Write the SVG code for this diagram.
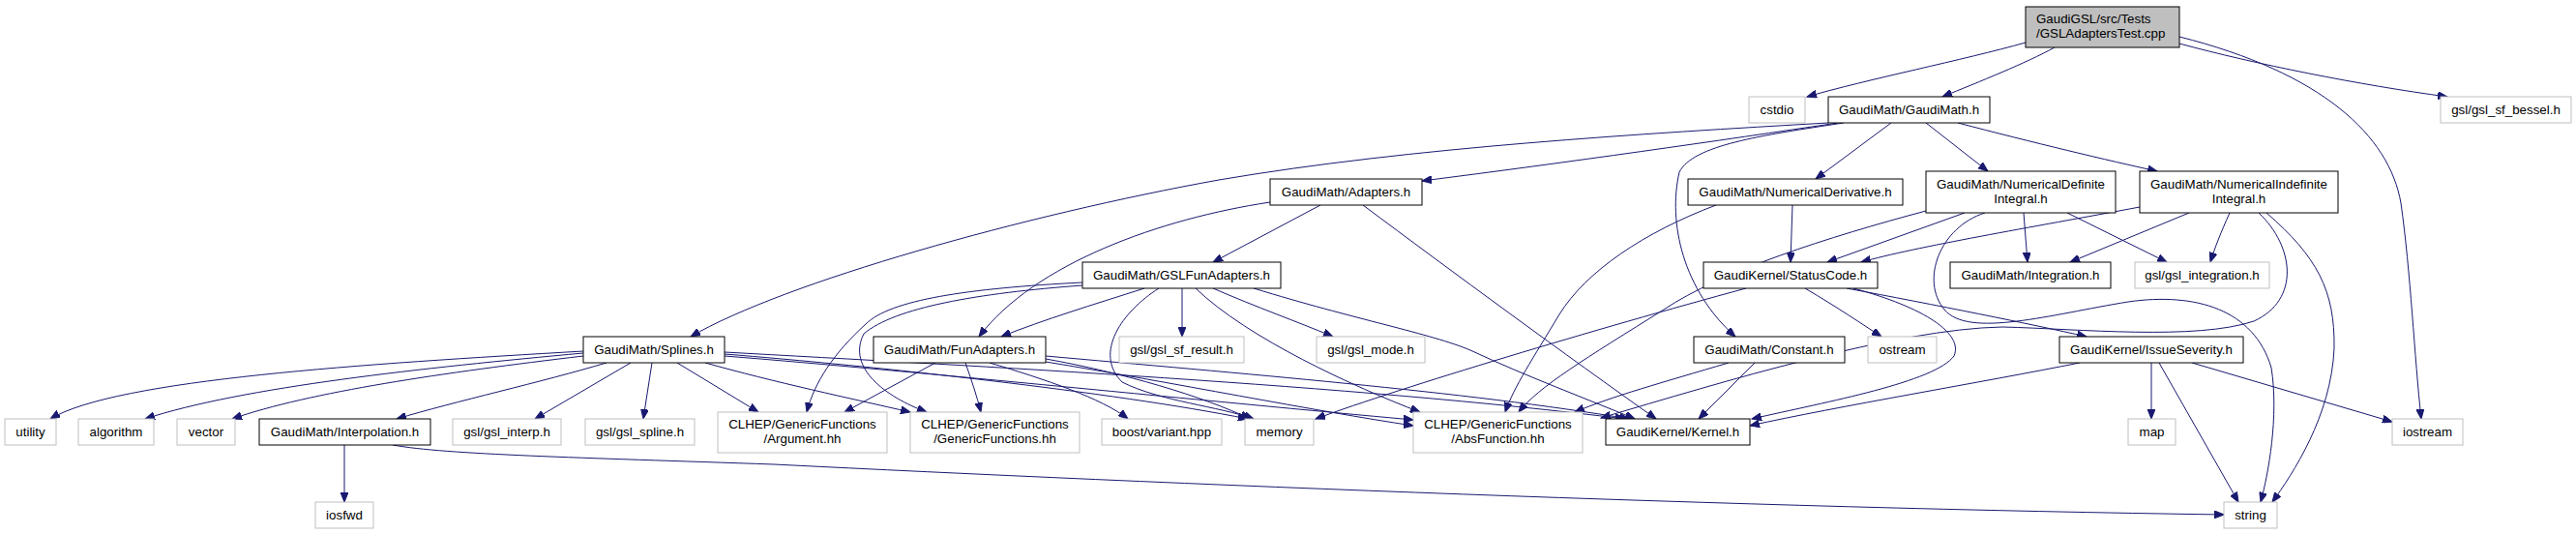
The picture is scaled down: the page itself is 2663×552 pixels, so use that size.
<svg xmlns="http://www.w3.org/2000/svg" width="2663" height="552" viewBox="0 0 2663 552">
<style>
rect{fill:#fff;stroke:#000;stroke-width:1}
.x rect{stroke:#bfbfbf}
.r rect{fill:#bfbfbf}
text{font-family:"Liberation Sans",Arial,Helvetica,sans-serif;font-size:13.33px;fill:#000;text-anchor:middle}
.r text{text-anchor:start}
#edges path{fill:none;stroke:#191970;stroke-width:1;marker-end:url(#arr)}
</style>
<defs>
<marker id="arr" markerWidth="11" markerHeight="8" refX="10" refY="4" orient="auto" markerUnits="userSpaceOnUse"><path d="M0,0 L10,4 L0,8 z" fill="#191970" stroke="#191970"/></marker>
</defs>
<rect x="0" y="0" width="2663" height="552" style="fill:#fff;stroke:none"/>
<g id="edges">
<path d="M2094,44 C2030,62 1930,82 1868,100"/>
<path d="M2124,49 C2095,65 2045,85 2008,100"/>
<path d="M2253,45 C2330,66 2440,88 2530,100"/>
<path d="M2253,38 C2400,75 2470,140 2482,210 C2492,280 2496,370 2503,433"/>
<path d="M1890,127 C1700,138 1460,152 1260,186 C1060,222 810,292 714,348"/>
<path d="M1900,127 C1780,145 1620,168 1470,187"/>
<path d="M1906,127 C1820,140 1750,150 1736,178 C1724,230 1740,300 1794,348"/>
<path d="M1955,127 L1877,185"/>
<path d="M1991,127 L2055,177"/>
<path d="M2024,127 C2100,147 2180,166 2230,177"/>
<path d="M1365,212 L1254,271"/>
<path d="M1313,209 C1200,226 1070,272 1012,348"/>
<path d="M1409,212 C1500,280 1620,368 1712,433"/>
<path d="M1119,292 C1000,298 920,310 895,335 C862,365 842,395 834,426"/>
<path d="M1119,295 C1010,303 925,318 893,345 C875,380 915,410 958,426"/>
<path d="M1183,298 C1130,315 1080,330 1035,348"/>
<path d="M1222,298 L1222,348"/>
<path d="M1254,298 C1300,318 1340,332 1378,348"/>
<path d="M1198,298 C1160,322 1130,365 1160,395 C1200,415 1260,420 1296,433"/>
<path d="M1236,298 C1290,350 1400,400 1468,426"/>
<path d="M1296,298 C1400,330 1480,345 1520,362 C1580,390 1640,412 1690,433"/>
<path d="M967,375 L873,426"/>
<path d="M998,375 C1004,392 1010,410 1014,426"/>
<path d="M1023,375 C1080,392 1140,412 1166,433"/>
<path d="M1081,371 C1160,385 1245,410 1292,433"/>
<path d="M1081,374 C1210,395 1360,425 1461,440"/>
<path d="M1081,368 C1270,385 1520,405 1684,433"/>
<path d="M603,363 C380,376 120,392 52,433"/>
<path d="M603,365 C440,380 250,400 150,433"/>
<path d="M603,368 C460,385 320,405 240,433"/>
<path d="M627,375 C560,395 470,415 410,433"/>
<path d="M652,375 L553,433"/>
<path d="M674,375 L665,433"/>
<path d="M700,375 L784,426"/>
<path d="M729,375 C800,395 880,412 941,426"/>
<path d="M749,366 C900,378 1150,405 1290,433"/>
<path d="M749,368 C950,384 1250,415 1461,434"/>
<path d="M749,364 C1000,378 1400,398 1680,433"/>
<path d="M356,460 L356,519"/>
<path d="M406,460 C460,470 600,473 800,480 C1200,500 1800,525 2299,532"/>
<path d="M1853,212 L1851,271"/>
<path d="M1774,212 C1700,240 1640,280 1612,325 C1585,370 1565,400 1556,426"/>
<path d="M2031,220 L1889,271"/>
<path d="M2092,220 L2096,271"/>
<path d="M2137,220 L2240,271"/>
<path d="M1991,218 C1890,245 1780,280 1720,320 C1640,370 1590,400 1570,426"/>
<path d="M2052,220 C2005,235 1985,290 2010,320 C2035,350 2120,325 2200,312 C2270,302 2330,320 2348,380 C2356,430 2345,490 2337,519"/>
<path d="M2212,214 C2100,235 1980,255 1924,271"/>
<path d="M2263,220 L2140,271"/>
<path d="M2305,220 C2296,240 2290,255 2285,271"/>
<path d="M2335,220 C2372,255 2378,310 2330,332 C2270,352 2150,340 2070,338 C1960,340 1780,395 1655,432"/>
<path d="M2343,220 C2395,265 2414,300 2413,360 C2410,430 2370,490 2349,519"/>
<path d="M1805,298 C1650,340 1450,400 1360,433"/>
<path d="M1866,298 C1900,318 1925,335 1945,348"/>
<path d="M1909,298 C2000,315 2100,335 2157,348"/>
<path d="M1916,298 C1990,318 2030,345 2020,368 C2000,395 1890,415 1811,433"/>
<path d="M1787,375 C1720,395 1665,410 1628,426"/>
<path d="M1814,375 L1756,433"/>
<path d="M2224,375 L2224,433"/>
<path d="M2232,375 L2314,519"/>
<path d="M2266,375 L2473,436"/>
<path d="M2150,375 C2050,395 1900,420 1809,440"/>
</g>
<g id="n_root" class="r"><rect x="2094" y="7" width="159" height="42"/><text x="2105" y="24">GaudiGSL/src/Tests</text><text x="2105" y="39">/GSLAdaptersTest.cpp</text></g>
<g id="n_cstdio" class="x"><rect x="1808" y="100" width="58" height="27"/><text x="1837" y="118">cstdio</text></g>
<g id="n_gaudimath"><rect x="1890" y="100" width="167" height="27"/><text x="1973.5" y="118">GaudiMath/GaudiMath.h</text></g>
<g id="n_bessel" class="x"><rect x="2523" y="100" width="135" height="27"/><text x="2590.5" y="118">gsl/gsl_sf_bessel.h</text></g>
<g id="n_adapters"><rect x="1313" y="185" width="157" height="27"/><text x="1391.5" y="203">GaudiMath/Adapters.h</text></g>
<g id="n_numderiv"><rect x="1745" y="185" width="222" height="27"/><text x="1856" y="203">GaudiMath/NumericalDerivative.h</text></g>
<g id="n_numdef"><rect x="1991" y="177" width="196" height="43"/><text x="2089" y="195">GaudiMath/NumericalDefinite</text><text x="2089" y="210">Integral.h</text></g>
<g id="n_numindef"><rect x="2212" y="177" width="205" height="43"/><text x="2314.5" y="195">GaudiMath/NumericalIndefinite</text><text x="2314.5" y="210">Integral.h</text></g>
<g id="n_gslfun"><rect x="1119" y="271" width="205" height="27"/><text x="1221.5" y="289">GaudiMath/GSLFunAdapters.h</text></g>
<g id="n_statuscode"><rect x="1761" y="271" width="180" height="27"/><text x="1851" y="289">GaudiKernel/StatusCode.h</text></g>
<g id="n_integration"><rect x="2016" y="271" width="166" height="27"/><text x="2099" y="289">GaudiMath/Integration.h</text></g>
<g id="n_gslint" class="x"><rect x="2207" y="271" width="139" height="27"/><text x="2276.5" y="289">gsl/gsl_integration.h</text></g>
<g id="n_splines"><rect x="603" y="348" width="146" height="27"/><text x="676" y="366">GaudiMath/Splines.h</text></g>
<g id="n_funadapters"><rect x="903" y="348" width="178" height="27"/><text x="992" y="366">GaudiMath/FunAdapters.h</text></g>
<g id="n_sfresult" class="x"><rect x="1157" y="348" width="129" height="27"/><text x="1221.5" y="366">gsl/gsl_sf_result.h</text></g>
<g id="n_gslmode" class="x"><rect x="1361" y="348" width="112" height="27"/><text x="1417" y="366">gsl/gsl_mode.h</text></g>
<g id="n_constant"><rect x="1751" y="348" width="156" height="27"/><text x="1829" y="366">GaudiMath/Constant.h</text></g>
<g id="n_ostream" class="x"><rect x="1931" y="348" width="71" height="27"/><text x="1966.5" y="366">ostream</text></g>
<g id="n_issue"><rect x="2129" y="348" width="190" height="27"/><text x="2224" y="366">GaudiKernel/IssueSeverity.h</text></g>
<g id="n_utility" class="x"><rect x="5" y="433" width="53" height="27"/><text x="31.5" y="451">utility</text></g>
<g id="n_algorithm" class="x"><rect x="81" y="433" width="78" height="27"/><text x="120" y="451">algorithm</text></g>
<g id="n_vector" class="x"><rect x="183" y="433" width="60" height="27"/><text x="213" y="451">vector</text></g>
<g id="n_interp"><rect x="268" y="433" width="177" height="27"/><text x="356.5" y="451">GaudiMath/Interpolation.h</text></g>
<g id="n_gslinterp" class="x"><rect x="468" y="433" width="112" height="27"/><text x="524" y="451">gsl/gsl_interp.h</text></g>
<g id="n_gslspline" class="x"><rect x="605" y="433" width="113" height="27"/><text x="661.5" y="451">gsl/gsl_spline.h</text></g>
<g id="n_argument" class="x"><rect x="742" y="426" width="175" height="42"/><text x="829.5" y="443">CLHEP/GenericFunctions</text><text x="829.5" y="458">/Argument.hh</text></g>
<g id="n_genfun" class="x"><rect x="941" y="426" width="175" height="42"/><text x="1028.5" y="443">CLHEP/GenericFunctions</text><text x="1028.5" y="458">/GenericFunctions.hh</text></g>
<g id="n_boost" class="x"><rect x="1139" y="433" width="124" height="27"/><text x="1201" y="451">boost/variant.hpp</text></g>
<g id="n_memory" class="x"><rect x="1287" y="433" width="71" height="27"/><text x="1322.5" y="451">memory</text></g>
<g id="n_absfun" class="x"><rect x="1461" y="426" width="175" height="42"/><text x="1548.5" y="443">CLHEP/GenericFunctions</text><text x="1548.5" y="458">/AbsFunction.hh</text></g>
<g id="n_kernel"><rect x="1660" y="433" width="149" height="27"/><text x="1734.5" y="451">GaudiKernel/Kernel.h</text></g>
<g id="n_map" class="x"><rect x="2200" y="433" width="49" height="27"/><text x="2224.5" y="451">map</text></g>
<g id="n_iostream" class="x"><rect x="2473" y="433" width="73" height="27"/><text x="2509.5" y="451">iostream</text></g>
<g id="n_iosfwd" class="x"><rect x="326" y="519" width="60" height="27"/><text x="356" y="537">iosfwd</text></g>
<g id="n_string" class="x"><rect x="2299" y="519" width="55" height="27"/><text x="2326.5" y="537">string</text></g>
</svg>
